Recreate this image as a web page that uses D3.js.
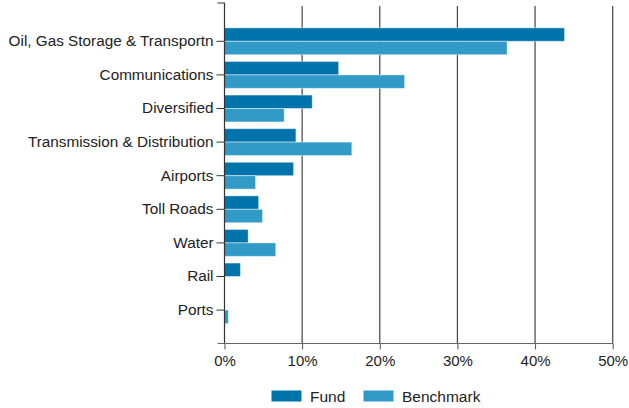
<!DOCTYPE html>
<html><head><meta charset="utf-8">
<script src="https://cdn.jsdelivr.net/npm/d3@7"></script>
<style>body{margin:0;background:#fff}svg{display:block;font-family:"Liberation Sans",Arial,sans-serif}</style>
</head><body><svg id="c" width="629" height="408"></svg>
<script>
const categories = ["Oil, Gas Storage & Transportn","Communications","Diversified","Transmission & Distribution","Airports","Toll Roads","Water","Rail","Ports"];
const seriesNames = ["Fund","Benchmark"];
const fund = [43.8,14.7,11.3,9.2,8.9,4.4,3.05,2.05,0];
const benchmark = [36.4,23.2,7.7,16.4,4.0,4.9,6.6,0,0.5];
const xTicks = [0,10,20,30,40,50];
const colors = ["#0073AA","#319AC6"];

const svg = d3.select("#c");
const x0 = 224.5, x1 = 612.7, yTop = 3, yBot = 343.5;
const x = d3.scaleLinear().domain([0,50]).range([x0,x1]);
const y = d3.scaleBand().domain(categories).range([24.5,326.9]).paddingInner(0.2).paddingOuter(0.1);
const ySub = d3.scaleBand().domain(seriesNames).range([0,y.bandwidth()]);
const values = [fund, benchmark];

// gridlines
svg.append("g").selectAll("line").data(xTicks.filter(d=>d>0)).join("line")
  .attr("x1",d=>x(d)).attr("x2",d=>x(d)).attr("y1",6).attr("y2",yBot)
  .attr("stroke","#444").attr("stroke-width",1.2);

// bars
seriesNames.forEach((s,si)=>{
  svg.append("g").selectAll("rect").data(categories.map((c,i)=>({c,v:values[si][i]})).filter(d=>d.v>0)).join("rect")
    .attr("x",x(0)).attr("y",d=>y(d.c)+ySub(s))
    .attr("width",d=>x(d.v)-x(0)).attr("height",ySub.bandwidth())
    .attr("fill",colors[si]).attr("stroke","rgba(255,255,255,0.45)").attr("stroke-width",1);
});

// y axis
const yAxis = svg.append("g").attr("transform",`translate(${x0},0)`)
  .call(d3.axisLeft(y).tickSize(8).tickSizeOuter(0).tickPadding(3));
yAxis.select(".domain").remove();
yAxis.selectAll(".tick line").attr("stroke","#333");
yAxis.selectAll("text").attr("font-size",15.3).attr("fill","#222").attr("font-family","Liberation Sans, Arial, sans-serif");
svg.append("path").attr("d",`M${x0-7},${yTop}H${x0}V${yBot}`).attr("fill","none").attr("stroke","#333").attr("stroke-width",1.2);

// x axis
const xAxis = svg.append("g").attr("transform",`translate(0,${yBot})`)
  .call(d3.axisBottom(x).tickValues(xTicks).tickFormat(d=>d+"%").tickSize(6).tickSizeOuter(0).tickPadding(6));
xAxis.select(".domain").remove();
xAxis.selectAll(".tick line").attr("stroke","#555");
xAxis.selectAll("text").attr("font-size",15).attr("fill","#222").attr("font-family","Liberation Sans, Arial, sans-serif");
svg.append("path").attr("d",`M${x0-7},${yBot}H${x1}`).attr("fill","none").attr("stroke","#666").attr("stroke-width",1.2);

// legend
const legX = [271.5,363.5];
seriesNames.forEach((s,i)=>{
  svg.append("rect").attr("x",legX[i]).attr("y",390.5).attr("width",30).attr("height",11).attr("fill",colors[i]);
  svg.append("text").attr("x",legX[i]+38.5).attr("y",401.5).attr("font-size",15.5).attr("fill","#222").text(s);
});
</script></body></html>
